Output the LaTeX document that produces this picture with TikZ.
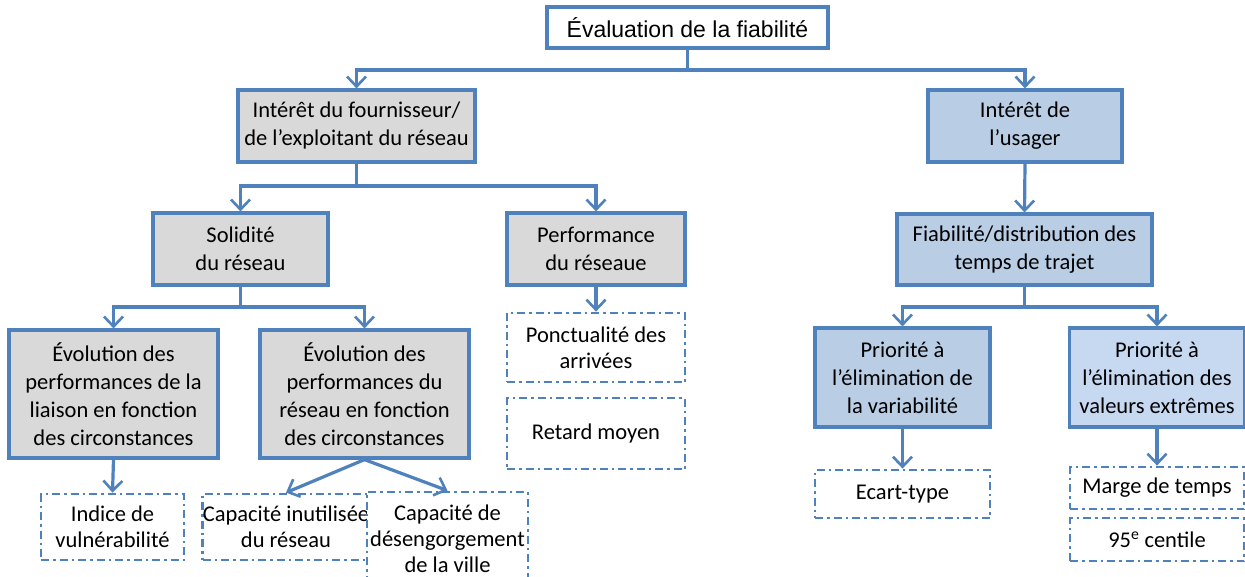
\documentclass[tikz,border=0pt]{standalone}
\usepackage{fontspec}
\setmainfont{Carlito}
\newfontfamily\titrefont{Liberation Sans}
\usepackage{tikz}
\usetikzlibrary{positioning,arrows.meta}

\definecolor{bordbleu}{HTML}{4F81BD}
\definecolor{fondgris}{HTML}{D9D9D9}
\definecolor{fondbleu}{HTML}{B9CDE5}
\definecolor{fondclair}{HTML}{C6D9F1}

\tikzset{
  boite/.style={draw=bordbleu, line width=3.2pt, align=center, inner sep=0pt,
    font=\fontsize{22.5}{28}\selectfont},
  grisbox/.style={boite, fill=fondgris},
  bleubox/.style={boite, fill=fondbleu},
  clairbox/.style={boite, fill=fondclair},
  pointbox/.style={boite, fill=white, line width=2.8pt,
    font=\fontsize{22.5}{26}\selectfont,
    dash pattern=on 8pt off 4pt on 2.5pt off 4pt},
  fleche/.style={draw=bordbleu, line width=3.2pt,
    -{Straight Barb[length=10pt,width=19pt,line width=2.6pt]}},
  trait/.style={draw=bordbleu, line width=3.2pt}
}

\begin{document}
\begin{tikzpicture}[x=1pt,y=-1pt]
				\clip (0,0) rectangle (1245,577);
				\fill[white] (0,0) rectangle (1245,577);
				% Sommet
				\node[boite, fill=white, minimum width=281, minimum height=41,
				      font=\titrefont\fontsize{23}{26}\selectfont] (titre) at (687.5,27.5) {Évaluation de la fiabilité};
				% Niveau 1
				\node[grisbox, minimum width=237, minimum height=72] (fourn) at (356.5,126) {Intérêt du fournisseur/\\de l’exploitant du réseau};
				\node[bleubox, minimum width=194, minimum height=72] (usager) at (1025,126) {Intérêt de\\l’usager};
				% Niveau 2
				\node[grisbox, minimum width=175, minimum height=72] (solid) at (240.5,249) {Solidité\\du réseau};
				\node[grisbox, minimum width=178, minimum height=72] (perf) at (596,249) {Performance\\du réseaue};
				\node[bleubox, minimum width=255, minimum height=71] (fiab) at (1024.5,249.5) {Fiabilité/distribution des\\temps de trajet};
				% Niveau 3
				\node[grisbox, minimum width=209, minimum height=128] (evol1) at (113.5,394) {Évolution des\\performances de la\\liaison en fonction\\des circonstances};
				\node[grisbox, minimum width=209, minimum height=128] (evol2) at (364.5,394) {Évolution des\\performances du\\réseau en fonction\\des circonstances};
				\node[bleubox, minimum width=175, minimum height=99] (prio1) at (902.5,377.5) {Priorité à\\l’élimination de\\la variabilité};
				\node[clairbox, minimum width=175, minimum height=99] (prio2) at (1157,377.5) {Priorité à\\l’élimination des\\valeurs extrêmes};
				% Indicateurs
				\node[pointbox, minimum width=143, minimum height=66] (indice) at (112.5,527) {Indice de\\vulnérabilité};
				\node[pointbox, minimum width=164, minimum height=66] (capinut) at (286,527) {Capacité inutilisée\\du réseau};
				\node[pointbox, minimum width=161, minimum height=94] (capdes) at (447.5,539) {Capacité de\\désengorgement\\de la ville};
				\node[pointbox, minimum width=178, minimum height=69] (ponct) at (596,347.5) {Ponctualité des\\arrivées};
				\node[pointbox, minimum width=178, minimum height=71] (retard) at (596,433.5) {Retard moyen};
				\node[pointbox, minimum width=175, minimum height=48] (ecart) at (902.5,494) {Ecart-type};
				\node[pointbox, minimum width=174, minimum height=42] (marge) at (1157,488) {Marge de temps};
				\node[pointbox, minimum width=174, minimum height=43] (centile) at (1157,539.5) {95\textsuperscript{e} centile};
				% Embranchements
				\coordinate (j0) at (687.5,70);
				\coordinate (j1) at (356.5,186);
				\coordinate (j2) at (240.5,307);
				\coordinate (j3) at (1024.5,307);
				\draw[trait] (titre.south) -- (j0);
				\draw[fleche] (j0) -| (fourn.north);
				\draw[fleche] (j0) -| (usager.north);
				\draw[trait] (fourn.south) -- (j1);
				\draw[fleche] (j1) -| (solid.north);
				\draw[fleche] (j1) -| (perf.north);
				\draw[fleche] (usager.south) -- (fiab.north);
				\draw[trait] (solid.south) -- (j2);
				\draw[fleche] (j2) -| (evol1.north);
				\draw[fleche] (j2) -| (evol2.north);
				\draw[trait] (fiab.south) -- (j3);
				\draw[fleche] (j3) -| (prio1.north);
				\draw[fleche] (j3) -| (prio2.north);
				\draw[fleche] (perf.south) -- (ponct.north);
				\draw[fleche] (evol1.south) -- (indice.north);
				\draw[fleche] (evol2.south) -- (capinut.north);
				\draw[fleche] (evol2.south) -- (capdes.north);
				\draw[fleche] (prio1.south) -- (ecart.north);
				\draw[fleche] (prio2.south) -- (marge.north);
\end{tikzpicture}
\end{document}
